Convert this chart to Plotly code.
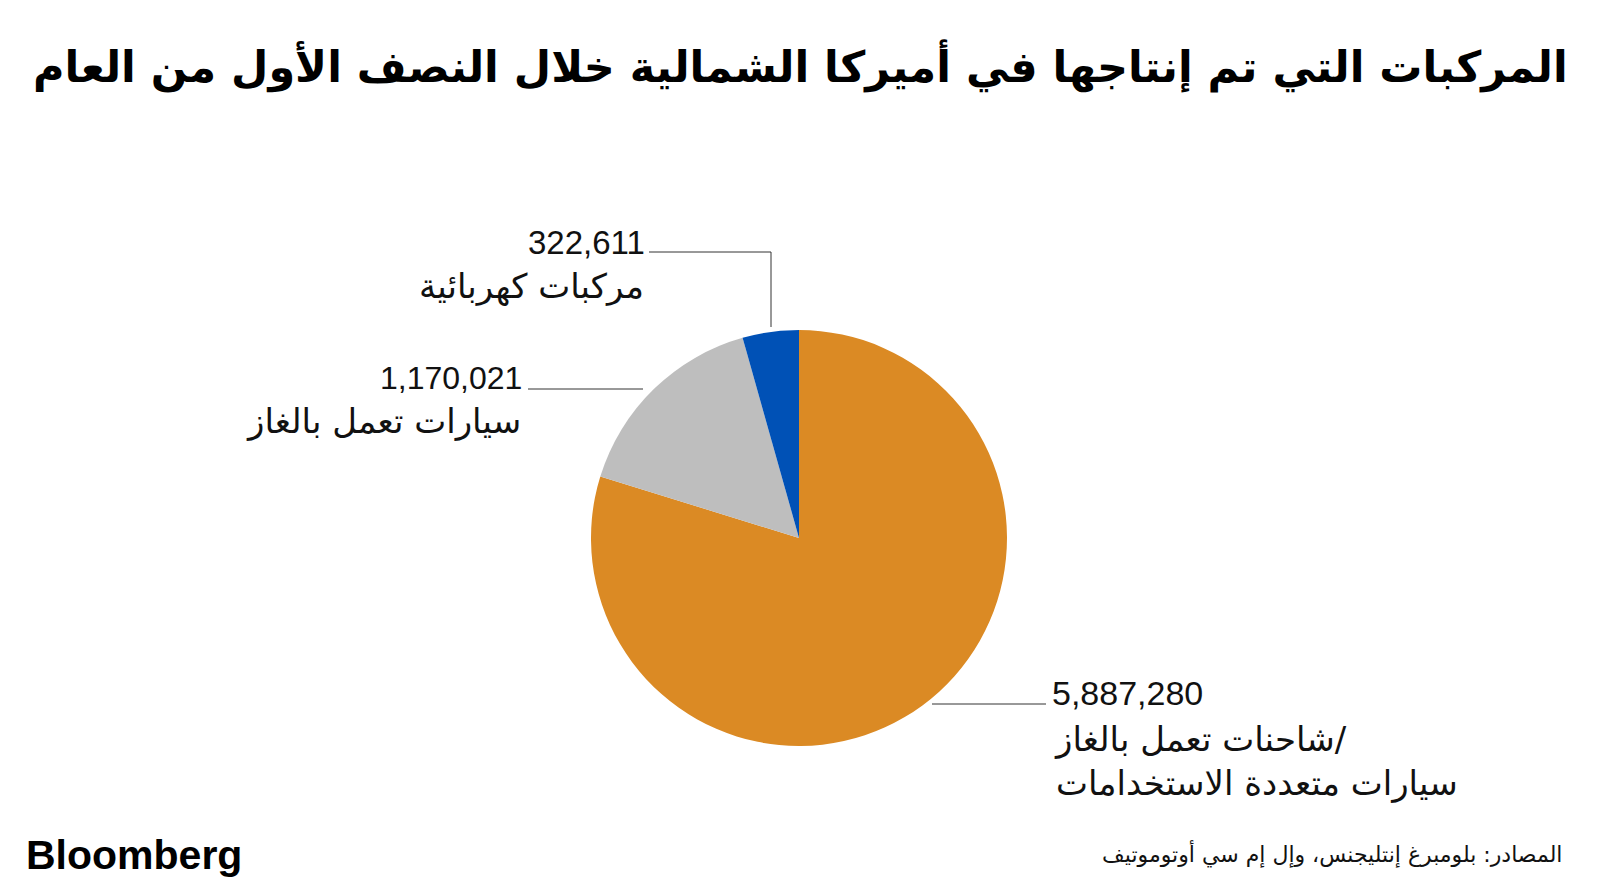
import plotly.graph_objects as go

W, H = 1600, 887

# ---- data (drawn clockwise from 12 o'clock) ----
categories = ["شاحنات تعمل بالغاز/<br>سيارات متعددة الاستخدامات", "سيارات تعمل بالغاز", "مركبات كهربائية"]
values = [5887280, 1170021, 322611]
colors = ["#DB8A24", "#BEBEBE", "#0051B6"]

title_text = "المركبات التي تم إنتاجها في أميركا الشمالية خلال النصف الأول من العام"
source_text = "المصادر: بلومبرغ إنتليجنس، وإل إم سي أوتوموتيف"

# ---- layout helpers ----
def px(x):
    return x / W

def py(y):
    return 1 - y / H

cx, cy, r = 799, 538, 208

fig = go.Figure(go.Pie(
    labels=categories,
    values=values,
    marker=dict(colors=colors, line=dict(width=0)),
    sort=False,
    direction="clockwise",
    rotation=0,
    textinfo="none",
    hoverinfo="label+value",
    showlegend=False,
    domain=dict(x=[px(cx - r), px(cx + r)], y=[py(cy + r), py(cy - r)]),
))

num_font = dict(family="Liberation Sans, Arial, sans-serif", size=33, color="#111111")
ar_font = dict(family="DejaVu Sans, Noto Sans, sans-serif", size=34, color="#111111")

annotations = []
shapes = []
line_style = dict(color="#333333", width=1)

def fmt(v):
    return f"{v:,}"

# electric vehicles (blue)
shapes.append(dict(type="line", xref="paper", yref="paper",
                   x0=px(771), y0=py(327), x1=px(771), y1=py(252), line=line_style))
shapes.append(dict(type="line", xref="paper", yref="paper",
                   x0=px(771), y0=py(252), x1=px(649), y1=py(252), line=line_style))
annotations.append(dict(x=px(647), y=py(242), xref="paper", yref="paper", text=fmt(values[2]),
                        xanchor="right", yanchor="middle", showarrow=False, font=num_font))
annotations.append(dict(x=px(646), y=py(286), xref="paper", yref="paper", text=categories[2],
                        xanchor="right", yanchor="middle", showarrow=False, font=ar_font))

# gas cars (gray)
shapes.append(dict(type="line", xref="paper", yref="paper",
                   x0=px(528), y0=py(389), x1=px(643), y1=py(389), line=line_style))
annotations.append(dict(x=px(524), y=py(378), xref="paper", yref="paper", text=fmt(values[1]),
                        xanchor="right", yanchor="middle", showarrow=False,
                        font=dict(num_font, size=32)))
annotations.append(dict(x=px(523), y=py(421), xref="paper", yref="paper", text=categories[1],
                        xanchor="right", yanchor="middle", showarrow=False, font=ar_font))

# trucks / SUVs (orange)
shapes.append(dict(type="line", xref="paper", yref="paper",
                   x0=px(932), y0=py(704), x1=px(1046), y1=py(704), line=line_style))
annotations.append(dict(x=px(1050), y=py(693), xref="paper", yref="paper", text=fmt(values[0]),
                        xanchor="left", yanchor="middle", showarrow=False,
                        font=dict(num_font, size=34)))
annotations.append(dict(x=px(1052), y=py(761), xref="paper", yref="paper", text=categories[0],
                        xanchor="left", yanchor="middle", align="left", showarrow=False, font=ar_font))

# title
annotations.append(dict(x=px(1570), y=py(66), xref="paper", yref="paper",
                        text="<b>" + title_text + "</b>",
                        xanchor="right", yanchor="middle", showarrow=False,
                        font=dict(family="DejaVu Sans, sans-serif", size=43, color="#000000")))
# logo
annotations.append(dict(x=px(24), y=py(855), xref="paper", yref="paper",
                        text="<b>Bloomberg</b>",
                        xanchor="left", yanchor="middle", showarrow=False,
                        font=dict(family="Liberation Sans, Arial, sans-serif", size=41, color="#000000")))
# source
annotations.append(dict(x=px(1565), y=py(854), xref="paper", yref="paper",
                        text=source_text,
                        xanchor="right", yanchor="middle", showarrow=False,
                        font=dict(family="DejaVu Sans, sans-serif", size=22, color="#111111")))

fig.update_layout(
    width=W, height=H,
    margin=dict(l=0, r=0, t=0, b=0),
    paper_bgcolor="white",
    plot_bgcolor="white",
    annotations=annotations,
    shapes=shapes,
)

fig.write_html("out.html")
